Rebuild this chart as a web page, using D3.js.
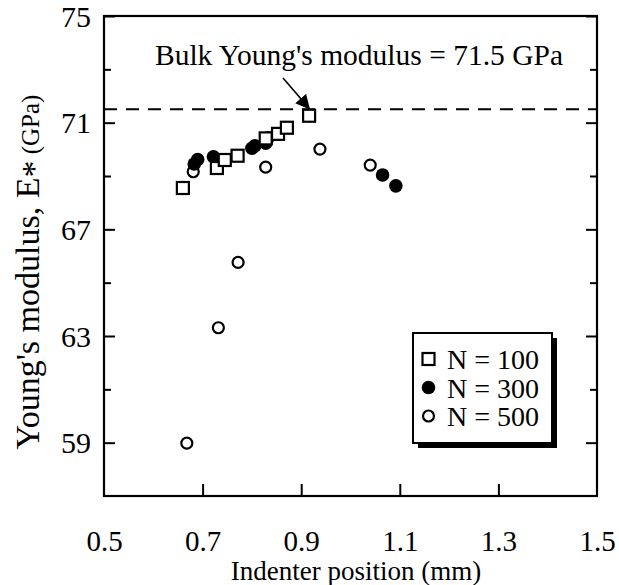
<!DOCTYPE html>
<html>
<head>
<meta charset="utf-8">
<script src="https://cdnjs.cloudflare.com/ajax/libs/d3/7.8.5/d3.min.js"></script>
<style>
  body { margin: 0; background: #fff; }
  text { font-family: "Liberation Serif", "Times New Roman", serif; fill: #000; }
</style>
</head>
<body>
<div id="chart"></div>
<script>
// Data: indenter position (mm) vs Young's modulus (GPa)
const n100 = [
  [0.660, 68.55], [0.729, 69.30], [0.745, 69.60], [0.771, 69.76],
  [0.828, 70.41], [0.853, 70.58], [0.871, 70.81], [0.916, 71.26]
];
const n300 = [
  [0.683, 69.45], [0.690, 69.62], [0.722, 69.72], [0.800, 70.04],
  [0.806, 70.13], [0.828, 70.23], [0.833, 70.43], [1.065, 69.04], [1.092, 68.63]
];
const n500 = [
  [0.668, 58.98], [0.681, 69.16], [0.732, 63.31], [0.772, 65.76],
  [0.828, 69.33], [0.938, 70.01], [1.040, 69.41]
];
const xTickLabels = [0.5, 0.7, 0.9, 1.1, 1.3, 1.5];
const xTicksInner = [0.7, 0.9, 1.1, 1.3];
const yMajor = [59, 63, 67, 71, 75];
const yMinor = [61, 65, 69, 73];
const bulkModulus = 71.5;
const legendItems = ["N = 100", "N = 300", "N = 500"];

const width = 619, height = 585;
const margin = { left: 104, right: 22, top: 16, bottom: 89 };

const svg = d3.select( "#chart" )
  .append( "svg" )
  .attr( "width", width )
  .attr( "height", height );

const x = d3.scaleLinear().domain( [ 0.5, 1.5 ] ).range( [ margin.left, width - margin.right ] );
const y = d3.scaleLinear().domain( [ 57, 75 ] ).range( [ height - margin.bottom, margin.top ] );

// axes - ticks point inwards
svg.append( "g" )
  .attr( "transform", `translate(${margin.left},0)` )
  .call( d3.axisLeft( y ).tickValues( yMajor ).tickSize( -11 ).tickPadding( 13 ).tickFormat( d3.format( "d" ) ) )
  .call( g => g.select( ".domain" ).remove() )
  .call( g => g.selectAll( "text" ).style( "font-size", "30px" ).attr( "dy", "0.34em" ) );

svg.append( "g" )
  .attr( "transform", `translate(${margin.left},0)` )
  .call( d3.axisLeft( y ).tickValues( yMinor ).tickSize( -7 ).tickFormat( "" ) )
  .call( g => g.select( ".domain" ).remove() );

svg.append( "g" )
  .attr( "transform", `translate(${width - margin.right},0)` )
  .call( d3.axisRight( y ).tickValues( yMajor ).tickSize( -11 ).tickFormat( "" ) )
  .call( g => g.select( ".domain" ).remove() );

svg.append( "g" )
  .attr( "transform", `translate(${width - margin.right},0)` )
  .call( d3.axisRight( y ).tickValues( yMinor ).tickSize( -7 ).tickFormat( "" ) )
  .call( g => g.select( ".domain" ).remove() );

svg.append( "g" )
  .attr( "transform", `translate(0,${height - margin.bottom})` )
  .call( d3.axisBottom( x ).tickValues( xTicksInner ).tickSize( -12 ).tickFormat( "" ) )
  .call( g => g.select( ".domain" ).remove() );

svg.append( "g" )
  .attr( "transform", `translate(0,${height - margin.bottom})` )
  .call( d3.axisBottom( x ).tickValues( xTickLabels ).tickSize( 0 ).tickPadding( 46 ).tickFormat( d3.format( ".1f" ) ) )
  .call( g => g.select( ".domain" ).remove() )
  .call( g => g.selectAll( "text" ).style( "font-size", "29px" ).attr( "dy", "0.31em" ) );

svg.selectAll( ".tick line" ).attr( "stroke", "#000" ).attr( "stroke-width", 2 );

// frame
svg.append( "rect" )
  .attr( "x", x( 0.5 ) )
  .attr( "y", y( 75 ) )
  .attr( "width", x( 1.5 ) - x( 0.5 ) )
  .attr( "height", y( 57 ) - y( 75 ) )
  .attr( "fill", "none" )
  .attr( "stroke", "#000" )
  .attr( "stroke-width", 2.2 );

// bulk modulus reference line
svg.append( "line" )
  .attr( "x1", x( 0.5 ) ).attr( "x2", x( 1.5 ) )
  .attr( "y1", y( bulkModulus ) ).attr( "y2", y( bulkModulus ) )
  .attr( "stroke", "#000" )
  .attr( "stroke-width", 2 )
  .attr( "stroke-dasharray", "13,9" );

svg.append( "text" )
  .attr( "x", 155 )
  .attr( "y", 65 )
  .style( "font-size", "29.5px" )
  .text( "Bulk Young's modulus = 71.5 GPa" );

svg.append( "defs" ).append( "marker" )
  .attr( "id", "arrow" )
  .attr( "viewBox", "0 0 10 10" )
  .attr( "refX", 9 ).attr( "refY", 5 )
  .attr( "markerWidth", 9 ).attr( "markerHeight", 9 )
  .attr( "orient", "auto" )
  .append( "path" )
  .attr( "d", "M0,0 L10,5 L0,10 Z" )
  .attr( "fill", "#000" );

svg.append( "line" )
  .attr( "x1", 283 ).attr( "y1", 78 )
  .attr( "x2", x( 0.916 ) ).attr( "y2", y( bulkModulus ) - 1 )
  .attr( "stroke", "#000" )
  .attr( "stroke-width", 1.6 )
  .attr( "marker-end", "url(#arrow)" );

// data marks
const plot = svg.append( "g" );

plot.selectAll( ".n500" )
  .data( n500 )
  .enter()
  .append( "circle" )
  .attr( "cx", d => x( d[ 0 ] ) )
  .attr( "cy", d => y( d[ 1 ] ) )
  .attr( "r", 5.5 )
  .attr( "fill", "#fff" )
  .attr( "stroke", "#000" )
  .attr( "stroke-width", 2.2 );

plot.selectAll( ".n300" )
  .data( n300 )
  .enter()
  .append( "circle" )
  .attr( "cx", d => x( d[ 0 ] ) )
  .attr( "cy", d => y( d[ 1 ] ) )
  .attr( "r", 6.8 )
  .attr( "fill", "#000" );

plot.selectAll( ".n100" )
  .data( n100 )
  .enter()
  .append( "rect" )
  .attr( "x", d => x( d[ 0 ] ) - 6 )
  .attr( "y", d => y( d[ 1 ] ) - 6 )
  .attr( "width", 12 )
  .attr( "height", 12 )
  .attr( "fill", "#fff" )
  .attr( "stroke", "#000" )
  .attr( "stroke-width", 2.2 );

// legend with drop shadow
const lg = svg.append( "g" ).attr( "transform", "translate(413,333)" );
lg.append( "rect" )
  .attr( "x", 5 ).attr( "y", 5 )
  .attr( "width", 139 ).attr( "height", 110 )
  .attr( "fill", "#000" );
lg.append( "rect" )
  .attr( "width", 139 ).attr( "height", 110 )
  .attr( "fill", "#fff" )
  .attr( "stroke", "#000" )
  .attr( "stroke-width", 2 );

const rows = lg.selectAll( ".row" )
  .data( legendItems )
  .enter()
  .append( "g" )
  .attr( "transform", ( d, i ) => `translate(0,${26 + i * 28.5})` );

rows.filter( ( d, i ) => i === 0 ).append( "rect" )
  .attr( "x", 9.5 ).attr( "y", -6 ).attr( "width", 12 ).attr( "height", 12 )
  .attr( "fill", "#fff" ).attr( "stroke", "#000" ).attr( "stroke-width", 2.2 );
rows.filter( ( d, i ) => i === 1 ).append( "circle" )
  .attr( "cx", 15.5 ).attr( "r", 6.8 ).attr( "fill", "#000" );
rows.filter( ( d, i ) => i === 2 ).append( "circle" )
  .attr( "cx", 15.5 ).attr( "r", 5.5 ).attr( "fill", "#fff" )
  .attr( "stroke", "#000" ).attr( "stroke-width", 2.2 );

rows.append( "text" )
  .attr( "x", 34 )
  .attr( "y", 10 )
  .style( "font-size", "28px" )
  .text( d => d );

// axis titles
svg.append( "text" )
  .attr( "x", 356 )
  .attr( "y", 580 )
  .attr( "text-anchor", "middle" )
  .style( "font-size", "27px" )
  .text( "Indenter position (mm)" );

const yt = svg.append( "text" )
  .attr( "transform", "translate(39,272) rotate(-90)" )
  .attr( "text-anchor", "middle" )
  .style( "font-size", "34px" );
yt.append( "tspan" ).text( "Young's modulus, E" );
yt.append( "tspan" ).attr( "dy", 6 ).text( "*" );
yt.append( "tspan" ).attr( "dy", -6 ).style( "font-size", "25px" ).text( " (GPa)" );
</script>
</body>
</html>
